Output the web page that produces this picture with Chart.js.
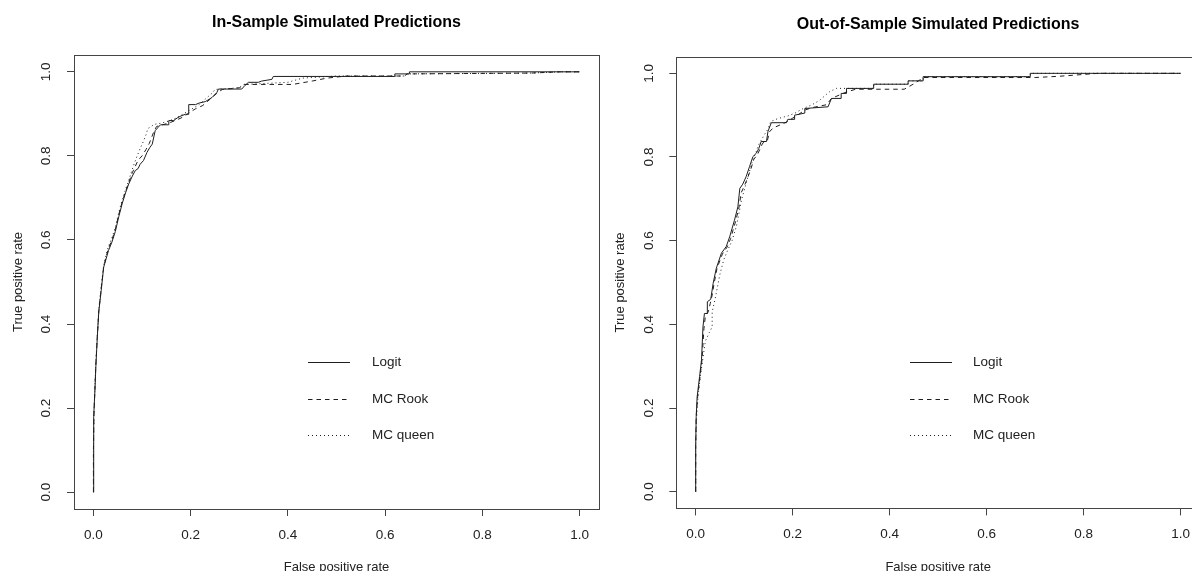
<!DOCTYPE html>
<html><head><meta charset="utf-8">
<script src="https://cdn.jsdelivr.net/npm/chart.js@4.4.0/dist/chart.umd.min.js"></script>
<style>
html,body{margin:0;padding:0;background:#fff;overflow:hidden;width:1192px;height:571px;position:relative;}
#wrapL{position:absolute;left:0;top:0;width:602px;height:585px;}
#wrapR{position:absolute;left:602px;top:0;width:610px;height:585px;}
canvas{display:block;}
</style></head><body>
<div id="wrapL"><canvas id="cL" width="602" height="585"></canvas></div>
<div id="wrapR"><canvas id="cR" width="610" height="585"></canvas></div>
<script>
// ---- data ----
const SERIES_LABELS = ['Logit', 'MC Rook', 'MC queen'];
const TICK_VALUES = [0, 0.2, 0.4, 0.6, 0.8, 1.0];
const TICK_LABELS = ['0.0', '0.2', '0.4', '0.6', '0.8', '1.0'];
const TITLE_LEFT = 'In-Sample Simulated Predictions';
const TITLE_RIGHT = 'Out-of-Sample Simulated Predictions';
const X_TITLE = 'False positive rate';
const Y_TITLE = 'True positive rate';

// In-sample
const IN_LOGIT_FPR = [0, 0.000, 0.001, 0.003, 0.005, 0.008, 0.011, 0.016, 0.021, 0.026, 0.031, 0.038, 0.045, 0.052, 0.059, 0.066, 0.0725, 0.08, 0.086, 0.092, 0.096, 0.103, 0.110, 0.116, 0.121, 0.127, 0.133, 0.138, 0.155, 0.155, 0.165, 0.172, 0.18, 0.189, 0.196, 0.196, 0.21, 0.218, 0.23, 0.244, 0.254, 0.257, 0.305, 0.312, 0.319, 0.339, 0.346, 0.367, 0.37, 0.62, 0.62, 0.65, 0.65, 1.0];
const IN_LOGIT_TPR = [0, 0.10, 0.18, 0.24, 0.30, 0.37, 0.43, 0.48, 0.535, 0.555, 0.575, 0.595, 0.62, 0.655, 0.686, 0.712, 0.733, 0.752, 0.765, 0.77, 0.78, 0.789, 0.808, 0.82, 0.828, 0.86, 0.868, 0.874, 0.874, 0.884, 0.884, 0.89, 0.895, 0.899, 0.899, 0.922, 0.922, 0.926, 0.929, 0.939, 0.951, 0.959, 0.959, 0.968, 0.975, 0.975, 0.978, 0.982, 0.989, 0.989, 0.995, 0.995, 1.0, 1.0];
const IN_ROOK_FPR = [0, 0.000, 0.001, 0.003, 0.005, 0.008, 0.011, 0.016, 0.021, 0.026, 0.031, 0.038, 0.045, 0.052, 0.059, 0.066, 0.072, 0.08, 0.086, 0.092, 0.10, 0.108, 0.115, 0.12, 0.125, 0.13, 0.145, 0.155, 0.17, 0.18, 0.19, 0.20, 0.21, 0.225, 0.24, 0.255, 0.265, 0.30, 0.31, 0.41, 0.45, 0.48, 0.52, 0.64, 0.645, 0.90, 0.96, 1.0];
const IN_ROOK_TPR = [0, 0.10, 0.18, 0.245, 0.305, 0.37, 0.43, 0.485, 0.535, 0.56, 0.58, 0.60, 0.625, 0.66, 0.69, 0.715, 0.735, 0.76, 0.775, 0.79, 0.80, 0.815, 0.83, 0.845, 0.86, 0.87, 0.875, 0.878, 0.885, 0.89, 0.897, 0.905, 0.912, 0.92, 0.935, 0.95, 0.958, 0.962, 0.97, 0.97, 0.978, 0.985, 0.99, 0.99, 0.995, 0.997, 1.0, 1.0];
const IN_QUEEN_FPR = [0, 0.000, 0.001, 0.003, 0.005, 0.008, 0.011, 0.016, 0.021, 0.026, 0.031, 0.038, 0.045, 0.052, 0.059, 0.066, 0.072, 0.079, 0.085, 0.09, 0.097, 0.103, 0.108, 0.112, 0.125, 0.14, 0.155, 0.17, 0.185, 0.2, 0.215, 0.23, 0.245, 0.25, 0.30, 0.31, 0.40, 0.43, 0.50, 0.64, 0.645, 0.90, 0.96, 1.0];
const IN_QUEEN_TPR = [0, 0.10, 0.185, 0.25, 0.31, 0.375, 0.435, 0.49, 0.54, 0.565, 0.585, 0.605, 0.63, 0.665, 0.695, 0.72, 0.74, 0.765, 0.785, 0.80, 0.82, 0.835, 0.85, 0.865, 0.875, 0.878, 0.883, 0.89, 0.9, 0.91, 0.92, 0.935, 0.95, 0.958, 0.962, 0.97, 0.975, 0.985, 0.99, 0.99, 0.995, 0.997, 1.0, 1.0];

// Out-of-sample
const OUT_LOGIT_FPR = [0, 0, 0.001, 0.003, 0.008, 0.012, 0.015, 0.018, 0.024, 0.024, 0.031, 0.036, 0.0425, 0.053, 0.063, 0.070, 0.080, 0.087, 0.091, 0.097, 0.104, 0.111, 0.118, 0.125, 0.13, 0.135, 0.146, 0.149, 0.156, 0.187, 0.19, 0.204, 0.204, 0.225, 0.225, 0.273, 0.28, 0.30, 0.30, 0.311, 0.311, 0.367, 0.367, 0.438, 0.438, 0.469, 0.469, 0.69, 0.69, 1.0];
const OUT_LOGIT_TPR = [0, 0.108, 0.179, 0.227, 0.275, 0.315, 0.394, 0.426, 0.426, 0.454, 0.46, 0.498, 0.534, 0.570, 0.586, 0.609, 0.649, 0.681, 0.725, 0.735, 0.753, 0.777, 0.801, 0.809, 0.82, 0.837, 0.837, 0.861, 0.882, 0.882, 0.89, 0.89, 0.90, 0.905, 0.916, 0.92, 0.94, 0.94, 0.952, 0.952, 0.964, 0.964, 0.974, 0.974, 0.982, 0.982, 0.992, 0.992, 1.0, 1.0];
const OUT_ROOK_FPR = [0, 0, 0.001, 0.004, 0.009, 0.013, 0.017, 0.02, 0.026, 0.03, 0.034, 0.038, 0.044, 0.055, 0.065, 0.072, 0.082, 0.089, 0.094, 0.10, 0.107, 0.114, 0.12, 0.127, 0.133, 0.138, 0.148, 0.152, 0.16, 0.165, 0.19, 0.20, 0.21, 0.225, 0.24, 0.27, 0.28, 0.30, 0.31, 0.33, 0.43, 0.45, 0.47, 0.70, 0.75, 0.83, 1.0];
const OUT_ROOK_TPR = [0, 0.108, 0.179, 0.227, 0.275, 0.315, 0.39, 0.42, 0.43, 0.45, 0.47, 0.498, 0.534, 0.568, 0.585, 0.605, 0.645, 0.678, 0.715, 0.73, 0.75, 0.772, 0.795, 0.805, 0.82, 0.833, 0.84, 0.86, 0.87, 0.872, 0.885, 0.893, 0.90, 0.912, 0.918, 0.925, 0.94, 0.95, 0.955, 0.962, 0.962, 0.975, 0.99, 0.99, 0.993, 1.0, 1.0];
const OUT_QUEEN_FPR = [0, 0, 0.002, 0.005, 0.01, 0.015, 0.02, 0.028, 0.034, 0.034, 0.04, 0.045, 0.05, 0.058, 0.067, 0.075, 0.084, 0.09, 0.095, 0.10, 0.106, 0.112, 0.118, 0.124, 0.13, 0.14, 0.148, 0.155, 0.17, 0.19, 0.205, 0.22, 0.24, 0.255, 0.265, 0.276, 0.29, 0.311, 0.367, 0.367, 0.438, 0.438, 0.469, 0.469, 0.69, 0.69, 1.0];
const OUT_QUEEN_TPR = [0, 0.108, 0.18, 0.23, 0.28, 0.32, 0.36, 0.38, 0.394, 0.43, 0.46, 0.49, 0.52, 0.555, 0.58, 0.60, 0.635, 0.67, 0.70, 0.72, 0.745, 0.77, 0.795, 0.81, 0.83, 0.85, 0.865, 0.885, 0.892, 0.898, 0.905, 0.915, 0.925, 0.935, 0.945, 0.956, 0.964, 0.964, 0.964, 0.974, 0.974, 0.982, 0.982, 0.992, 0.992, 1.0, 1.0];

// ---- styling ----
const FONT = '"Liberation Sans", Arial, Helvetica, sans-serif';
const DASHES = [[], [4.5, 4], [1, 3]];
const LINE_COLOR = '#1e1e1e';
const AXIS_COLOR = '#444';
const TEXT_COLOR = '#222';
Chart.defaults.font.family = FONT;
Chart.defaults.color = TEXT_COLOR;

const framePlugin = {
  id: 'frame',
  afterDraw(chart) {
    const {ctx, chartArea: a} = chart;
    ctx.save();
    ctx.strokeStyle = AXIS_COLOR;
    ctx.lineWidth = 1;
    const l = Math.round(a.left), t = Math.round(a.top), r = Math.round(a.right), b = Math.round(a.bottom);
    ctx.strokeRect(l + 0.5, t + 0.5, r - l, b - t);
    ctx.restore();
  }
};

const legendPlugin = {
  id: 'rLegend',
  afterDraw(chart, args, opts) {
    const ctx = chart.ctx;
    chart.data.datasets.forEach((ds, i) => {
      const y = Math.round(opts.y0 + i * opts.dy);
      ctx.save();
      ctx.strokeStyle = ds.borderColor;
      ctx.lineWidth = 1;
      ctx.setLineDash(ds.borderDash);
      ctx.beginPath();
      ctx.moveTo(opts.x0, y + 0.5);
      ctx.lineTo(opts.x0 + opts.len, y + 0.5);
      ctx.stroke();
      ctx.setLineDash([]);
      ctx.fillStyle = TEXT_COLOR;
      ctx.font = '13.5px ' + FONT;
      ctx.textBaseline = 'middle';
      ctx.textAlign = 'left';
      ctx.fillText(ds.label, opts.tx, y + 0.5);
      ctx.restore();
    });
  }
};

function makeChart(id, cfg) {
  const datasets = SERIES_LABELS.map((lab, i) => ({
    label: lab,
    data: cfg.fpr[i].map((x, j) => ({x: x, y: cfg.tpr[i][j]})),
    borderColor: LINE_COLOR,
    borderWidth: 1,
    borderDash: DASHES[i],
    pointRadius: 0,
    fill: false,
    tension: 0
  }));
  const axisCommon = () => ({
    type: 'linear', min: -0.04, max: 1.04,
    afterBuildTicks: s => { s.ticks = TICK_VALUES.map(v => ({value: v})); },
    grid: {drawOnChartArea: false, drawTicks: true, tickLength: 7, color: AXIS_COLOR, lineWidth: 1},
    border: {display: false}
  });
  const xAxis = Object.assign(axisCommon(), {
    position: 'bottom',
    afterFit: s => { s.height = cfg.xh; },
    ticks: {callback: (v, i) => TICK_LABELS[i], font: {size: 13.5}, color: TEXT_COLOR, padding: 11.2, maxRotation: 0, minRotation: 0, autoSkip: false},
    title: {display: true, text: X_TITLE, font: {size: 13}, color: TEXT_COLOR, padding: {top: 0, bottom: 10.2}}
  });
  const yAxis = Object.assign(axisCommon(), {
    position: 'left',
    afterFit: s => { s.width = cfg.yw; },
    ticks: {callback: (v, i) => TICK_LABELS[i], font: {size: 13.5}, color: TEXT_COLOR, padding: 11, minRotation: 90, maxRotation: 90, crossAlign: 'center', autoSkip: false},
    title: {display: true, text: Y_TITLE, font: {size: 13}, color: TEXT_COLOR, padding: {top: 10.2, bottom: 0}}
  });
  return new Chart(document.getElementById(id), {
    type: 'line',
    data: {datasets},
    options: {
      responsive: false,
      animation: false,
      events: [],
      layout: {padding: {left: 0, right: cfg.padRight, top: 0, bottom: 0}},
      plugins: {
        legend: {display: false},
        tooltip: {enabled: false},
        title: {display: true, text: cfg.title, fullSize: false, color: '#000',
          font: {size: 16, weight: 'bold'}, padding: {top: cfg.titleTop, bottom: cfg.titleBottom}},
        rLegend: cfg.legend
      },
      scales: {x: xAxis, y: yAxis}
    },
    plugins: [framePlugin, legendPlugin]
  });
}

makeChart('cL', {
  title: TITLE_LEFT,
  fpr: [IN_LOGIT_FPR, IN_ROOK_FPR, IN_QUEEN_FPR],
  tpr: [IN_LOGIT_TPR, IN_ROOK_TPR, IN_QUEEN_TPR],
  yw: 74, xh: 76, padRight: 3, titleTop: 13.4, titleBottom: 22.4,
  legend: {x0: 308, len: 42, tx: 372, y0: 362, dy: 36.5}
});
makeChart('cR', {
  title: TITLE_RIGHT,
  fpr: [OUT_LOGIT_FPR, OUT_ROOK_FPR, OUT_QUEEN_FPR],
  tpr: [OUT_LOGIT_TPR, OUT_ROOK_TPR, OUT_QUEEN_TPR],
  yw: 74.3, xh: 76.6, padRight: 12, titleTop: 15.4, titleBottom: 22.0,
  legend: {x0: 308, len: 42, tx: 371, y0: 362, dy: 36.5}
});
</script>
</body></html>
